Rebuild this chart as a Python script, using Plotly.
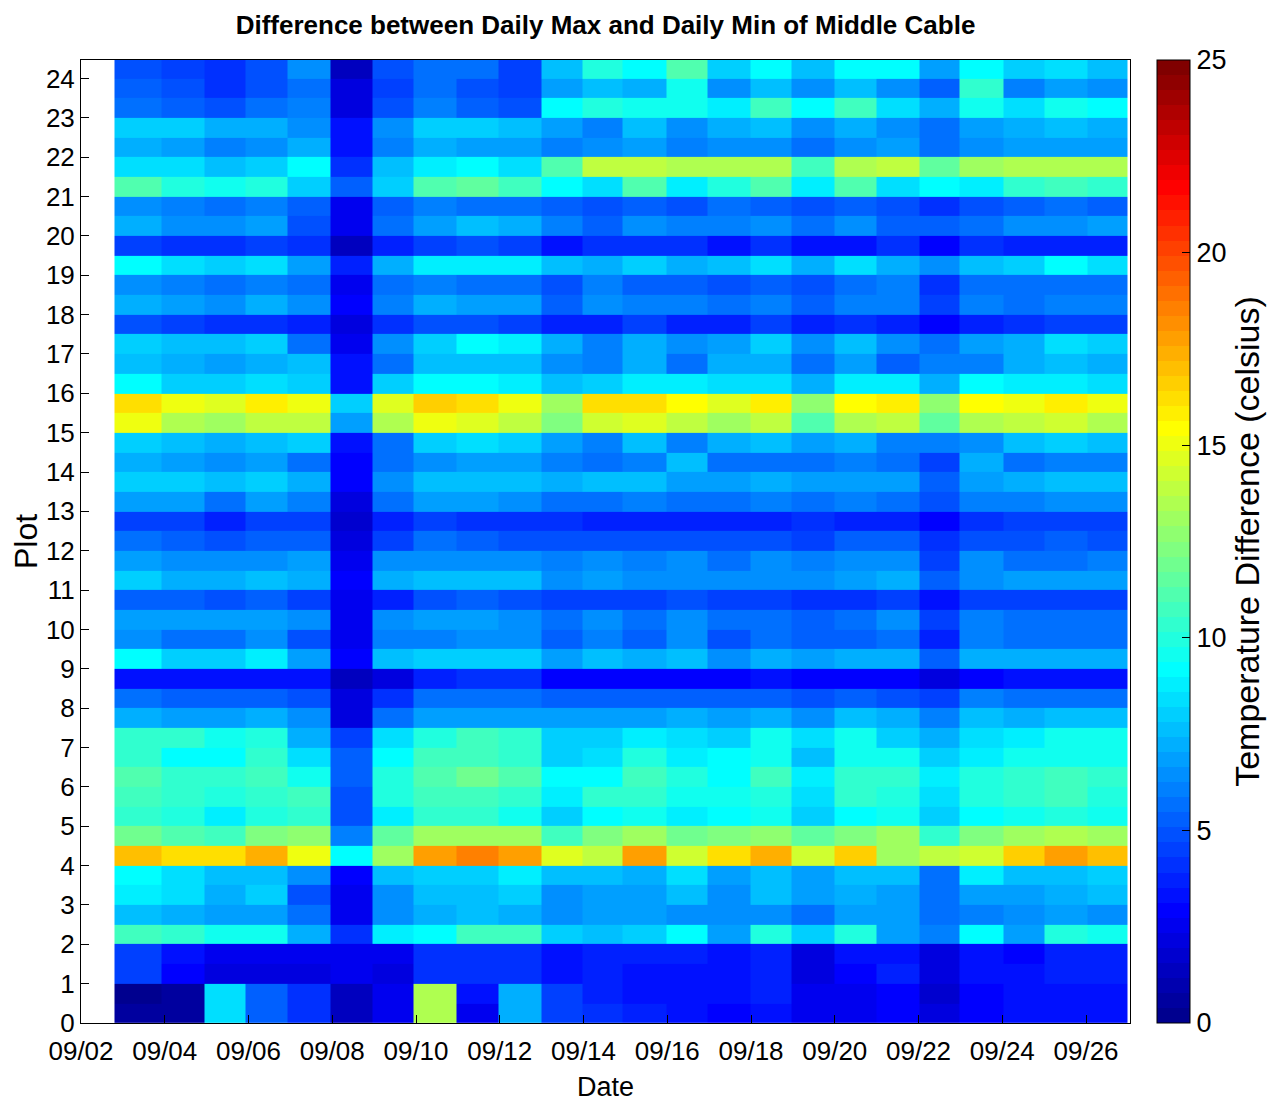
import math
import plotly.graph_objects as go

# ---------------- data ----------------
# column (day) bin edges, in day-of-September
date_edges = [2.80, 3.92, 4.95, 5.92, 6.94, 7.95, 8.97, 9.94, 10.97, 11.97, 13.00,
              13.97, 14.94, 15.97, 16.97, 17.99, 18.97, 19.99, 20.99, 22.02, 22.99,
              24.03, 25.00, 26.03, 27.00]
# plot (row) bin edges
plot_edges = [0, 0.5, 1, 1.5, 2, 2.5, 3, 3.5, 4, 4.5, 5, 5.5, 6, 6.5, 7, 7.5, 8, 8.5,
              9, 9.5, 10, 10.5, 11, 11.5, 12, 12.5, 13, 13.5, 14, 14.5, 15, 15.5, 16,
              16.5, 17, 17.5, 18, 18.5, 19, 19.5, 20, 20.5, 21, 21.5, 22, 22.5, 23,
              23.5, 24, 24.5]
date_tick_days = [2, 4, 6, 8, 10, 12, 14, 16, 18, 20, 22, 24, 26]
date_tick_labels = ["09/02", "09/04", "09/06", "09/08", "09/10", "09/12", "09/14",
                    "09/16", "09/18", "09/20", "09/22", "09/24", "09/26"]
plot_ticks = list(range(0, 25))
cbar_ticks = [0, 5, 10, 15, 20, 25]

# temperature difference, rows listed from top (24.25) to bottom (0.25)
diff_top_to_bottom = [
    [5.0, 4.6, 4.1, 5.0, 6.5, 1.5, 5.0, 5.7, 5.7, 4.5, 7.6, 10.0, 9.2, 11.1, 8.0, 9.2, 7.6, 9.2, 9.2, 6.7, 9.2, 8.0, 8.4, 7.6],
    [5.3, 5.0, 4.1, 5.0, 5.7, 2.3, 4.5, 5.7, 5.0, 4.5, 6.9, 7.6, 7.3, 9.6, 6.5, 7.6, 6.5, 7.5, 6.3, 5.3, 10.4, 5.9, 6.7, 6.3],
    [5.5, 5.1, 4.7, 5.5, 5.9, 2.3, 5.0, 5.9, 5.3, 5.0, 9.0, 9.8, 9.6, 9.6, 8.8, 10.8, 9.0, 10.8, 8.4, 7.1, 9.6, 8.4, 9.6, 9.2],
    [8.2, 8.0, 7.3, 7.3, 6.5, 3.5, 6.5, 8.0, 8.0, 7.6, 6.7, 6.1, 7.6, 6.3, 7.3, 7.6, 6.3, 7.1, 6.3, 5.5, 6.7, 7.3, 7.6, 7.3],
    [7.1, 6.9, 6.1, 6.5, 7.3, 3.3, 5.9, 7.3, 6.9, 6.9, 6.1, 6.5, 6.9, 6.1, 6.5, 6.5, 5.7, 6.3, 6.7, 5.5, 6.3, 6.9, 6.9, 6.9],
    [8.3, 8.3, 7.6, 8.0, 9.0, 4.1, 7.6, 8.8, 9.2, 8.4, 11.1, 13.9, 13.9, 13.5, 13.3, 13.5, 10.8, 13.3, 13.7, 11.5, 13.1, 13.5, 13.5, 13.3],
    [11.1, 10.0, 9.6, 10.0, 8.0, 5.3, 8.0, 11.1, 11.5, 10.8, 9.2, 8.4, 11.1, 8.8, 10.0, 11.1, 8.8, 11.1, 8.4, 9.2, 8.8, 10.4, 10.8, 10.4],
    [6.3, 6.1, 5.7, 6.1, 5.3, 2.5, 5.3, 6.1, 5.7, 5.7, 5.3, 5.0, 5.3, 5.0, 5.5, 5.3, 5.0, 5.3, 5.0, 4.1, 5.0, 5.1, 5.5, 5.1],
    [7.1, 6.5, 6.5, 6.9, 4.7, 2.6, 5.7, 6.9, 7.6, 7.3, 6.1, 5.3, 6.3, 5.9, 5.9, 6.3, 5.5, 6.3, 5.3, 5.3, 5.5, 6.3, 6.5, 6.7],
    [4.5, 4.1, 4.1, 4.3, 4.1, 1.5, 3.7, 4.3, 5.0, 4.5, 3.5, 4.1, 4.1, 4.1, 3.5, 4.1, 3.3, 3.5, 4.1, 2.9, 4.1, 3.9, 3.9, 3.7],
    [9.2, 8.4, 8.0, 8.4, 6.9, 3.7, 7.3, 8.8, 8.6, 8.6, 7.6, 7.3, 8.0, 7.3, 7.6, 8.4, 7.1, 8.4, 7.1, 6.3, 7.6, 8.2, 9.0, 8.4],
    [6.3, 6.1, 5.7, 6.1, 5.7, 2.7, 5.5, 6.1, 5.7, 5.7, 5.0, 5.9, 5.3, 5.3, 5.0, 5.3, 4.7, 5.5, 6.1, 4.1, 5.5, 5.5, 5.5, 5.5],
    [7.3, 6.9, 6.5, 7.3, 6.5, 2.9, 5.9, 7.3, 6.9, 6.7, 5.3, 6.3, 5.9, 5.9, 5.5, 5.9, 5.1, 5.9, 5.9, 4.5, 5.9, 5.5, 6.1, 5.9],
    [5.0, 4.5, 4.1, 4.1, 3.7, 2.0, 4.1, 4.7, 5.0, 4.5, 3.9, 3.9, 4.3, 3.9, 3.9, 4.3, 3.7, 4.1, 3.7, 2.9, 3.7, 4.1, 4.3, 4.3],
    [8.2, 7.6, 7.6, 8.2, 5.5, 2.5, 6.5, 8.0, 9.2, 8.6, 7.1, 6.1, 7.3, 6.5, 6.7, 8.0, 6.5, 7.8, 6.3, 5.5, 6.7, 7.3, 8.4, 8.0],
    [7.6, 7.3, 6.7, 7.3, 7.6, 3.3, 5.7, 7.6, 7.8, 7.6, 6.5, 6.1, 7.3, 5.5, 7.3, 7.3, 5.5, 6.9, 5.3, 5.9, 5.9, 7.3, 7.5, 7.3],
    [9.0, 8.2, 8.2, 8.4, 8.2, 3.3, 8.0, 9.2, 9.2, 8.8, 7.8, 8.2, 8.6, 8.6, 8.4, 8.4, 7.3, 8.6, 8.6, 7.3, 9.2, 8.6, 8.8, 8.4],
    [16.3, 14.9, 14.5, 16.0, 15.0, 8.0, 14.7, 16.5, 16.2, 15.0, 13.1, 16.3, 16.3, 15.4, 14.7, 15.8, 12.7, 15.4, 16.0, 12.7, 15.4, 15.0, 16.0, 15.0],
    [15.0, 13.5, 13.1, 13.9, 13.9, 6.9, 13.5, 15.0, 14.5, 13.9, 12.3, 14.3, 14.7, 13.9, 13.1, 13.9, 11.1, 13.5, 13.9, 11.5, 13.5, 13.9, 14.3, 13.5],
    [8.2, 7.6, 7.3, 7.6, 8.2, 3.3, 5.7, 8.0, 8.4, 8.0, 6.9, 6.1, 7.6, 5.9, 7.3, 7.6, 6.7, 7.3, 5.9, 5.9, 6.5, 7.6, 8.0, 7.6],
    [7.1, 6.9, 6.3, 6.9, 5.5, 3.1, 5.7, 6.5, 6.9, 6.9, 6.1, 5.7, 6.1, 7.5, 5.7, 5.7, 5.5, 6.1, 5.7, 4.5, 7.3, 5.7, 6.1, 6.1],
    [8.0, 8.0, 7.6, 8.0, 7.3, 3.1, 6.5, 7.6, 7.6, 7.6, 7.1, 7.5, 7.5, 6.9, 6.9, 7.3, 6.9, 6.9, 6.9, 5.3, 6.9, 7.3, 7.6, 7.6],
    [6.9, 6.7, 5.7, 6.7, 5.9, 2.3, 5.7, 6.9, 6.7, 6.5, 5.7, 5.7, 6.1, 5.7, 5.7, 6.1, 5.7, 6.1, 5.7, 5.0, 6.1, 6.1, 6.3, 6.3],
    [4.5, 4.3, 3.9, 4.3, 4.5, 1.8, 3.7, 4.5, 4.1, 4.1, 4.1, 3.9, 3.9, 3.9, 3.9, 3.9, 4.1, 3.9, 3.9, 2.9, 4.1, 4.3, 4.3, 4.3],
    [5.7, 5.3, 5.0, 5.3, 5.3, 2.1, 4.5, 5.5, 5.3, 5.0, 5.0, 4.7, 4.7, 4.7, 4.7, 4.7, 4.5, 5.1, 5.1, 4.1, 5.0, 5.0, 5.1, 4.7],
    [6.9, 6.5, 6.5, 6.5, 6.9, 2.5, 6.5, 6.5, 6.5, 6.5, 6.1, 6.5, 6.1, 6.5, 5.7, 6.3, 5.9, 6.3, 6.3, 4.5, 6.5, 5.7, 5.7, 6.1],
    [8.0, 7.3, 7.3, 7.6, 7.3, 2.9, 7.3, 7.6, 7.6, 7.6, 6.5, 6.9, 6.5, 6.5, 6.5, 6.5, 6.3, 6.9, 7.3, 5.3, 6.5, 6.9, 6.9, 6.9],
    [5.3, 5.1, 4.7, 5.1, 4.5, 2.5, 3.7, 5.0, 5.3, 5.0, 4.5, 4.5, 4.5, 5.0, 4.5, 4.5, 4.1, 4.1, 4.5, 3.3, 4.5, 4.5, 4.5, 4.5],
    [6.9, 6.9, 6.9, 6.9, 6.5, 2.7, 6.5, 6.9, 6.9, 6.5, 5.7, 6.5, 5.7, 6.5, 5.5, 5.7, 5.3, 5.7, 6.5, 4.5, 5.9, 5.5, 5.5, 5.5],
    [6.3, 5.7, 5.7, 6.5, 5.0, 2.7, 6.1, 6.1, 6.3, 6.3, 5.3, 6.1, 5.3, 6.3, 5.0, 5.5, 5.3, 5.3, 5.7, 3.7, 5.9, 5.5, 5.5, 5.5],
    [9.2, 8.0, 8.0, 8.8, 6.7, 2.9, 7.6, 8.0, 8.0, 8.0, 6.7, 7.5, 7.1, 7.5, 6.5, 7.3, 6.7, 7.3, 7.3, 5.3, 7.3, 7.3, 7.3, 7.3],
    [3.5, 3.3, 3.3, 3.5, 3.3, 1.3, 2.3, 3.7, 4.1, 4.1, 3.1, 3.1, 2.9, 3.1, 3.1, 3.3, 3.1, 3.1, 3.1, 2.2, 3.1, 3.5, 3.5, 3.5],
    [5.7, 5.3, 5.3, 5.3, 5.0, 2.2, 4.1, 5.5, 5.7, 5.5, 5.1, 5.1, 5.1, 5.3, 5.1, 5.1, 5.0, 5.3, 4.7, 4.3, 5.9, 5.5, 5.5, 5.5],
    [7.1, 6.7, 6.7, 7.1, 6.5, 2.2, 5.7, 6.9, 6.9, 6.9, 6.9, 6.9, 6.9, 7.1, 6.9, 7.3, 6.3, 7.6, 7.1, 5.9, 7.6, 7.3, 7.6, 7.6],
    [10.4, 10.4, 9.6, 10.0, 7.3, 4.3, 8.4, 10.0, 10.8, 10.4, 8.2, 8.0, 8.8, 8.4, 8.0, 9.6, 8.4, 9.6, 8.0, 7.3, 8.4, 8.8, 9.6, 9.6],
    [10.2, 9.2, 9.2, 10.2, 8.4, 5.1, 9.2, 10.8, 10.8, 10.4, 8.2, 8.4, 10.0, 8.8, 9.2, 9.6, 7.8, 9.6, 9.6, 8.0, 8.8, 9.6, 9.6, 9.6],
    [11.1, 10.2, 10.2, 10.8, 9.6, 5.3, 9.8, 11.1, 11.9, 11.1, 9.2, 9.2, 10.8, 10.0, 9.2, 10.8, 8.8, 10.4, 10.4, 8.8, 10.0, 10.4, 10.8, 10.4],
    [10.8, 10.2, 9.8, 10.4, 10.8, 5.0, 10.0, 10.8, 10.8, 10.4, 8.6, 10.2, 10.4, 9.6, 9.6, 10.0, 8.4, 10.2, 10.0, 8.4, 10.0, 10.4, 10.6, 10.0],
    [10.4, 9.8, 8.8, 9.8, 10.2, 5.0, 8.8, 10.4, 10.4, 9.6, 8.2, 9.2, 9.6, 8.8, 9.2, 9.6, 8.0, 9.2, 9.6, 8.0, 9.2, 9.6, 10.0, 9.6],
    [11.9, 11.3, 10.8, 12.3, 12.7, 6.1, 11.5, 13.1, 13.1, 13.1, 10.8, 12.3, 13.1, 11.9, 12.3, 12.7, 11.5, 12.3, 13.1, 10.4, 12.3, 13.1, 13.5, 13.1],
    [16.9, 16.2, 16.2, 17.3, 15.0, 9.2, 13.1, 17.7, 18.5, 17.7, 14.7, 13.9, 17.7, 14.3, 16.2, 17.3, 14.3, 16.7, 13.1, 13.9, 14.3, 16.7, 17.7, 16.9],
    [9.2, 8.4, 7.6, 7.6, 6.5, 2.9, 7.6, 8.0, 8.2, 8.8, 7.6, 7.6, 7.3, 8.4, 6.9, 7.5, 6.9, 7.8, 7.5, 5.5, 8.8, 7.6, 7.6, 8.0],
    [8.6, 8.4, 7.3, 8.0, 5.0, 2.7, 6.5, 7.8, 7.8, 8.2, 6.5, 6.9, 6.9, 7.5, 6.5, 7.5, 6.7, 7.1, 6.9, 5.5, 6.9, 6.9, 7.3, 7.8],
    [7.6, 7.3, 6.9, 6.9, 5.7, 2.5, 6.5, 7.3, 7.8, 7.3, 6.3, 6.9, 6.9, 6.5, 6.5, 6.5, 5.5, 6.9, 6.9, 5.5, 5.9, 6.5, 6.9, 6.5],
    [10.8, 10.4, 9.6, 9.6, 7.3, 4.1, 8.6, 9.2, 10.8, 10.8, 8.2, 7.6, 8.0, 9.0, 6.9, 10.0, 8.0, 9.8, 6.7, 5.9, 9.2, 6.9, 10.0, 9.6],
    [4.5, 3.3, 2.5, 2.5, 2.5, 2.7, 2.5, 4.1, 4.1, 4.1, 3.3, 3.7, 3.7, 3.7, 3.5, 3.7, 2.2, 3.3, 3.3, 2.2, 3.5, 2.9, 3.7, 3.7],
    [4.5, 2.9, 2.2, 2.2, 2.2, 2.5, 2.2, 4.1, 4.1, 4.1, 3.3, 3.9, 3.5, 3.5, 3.3, 3.7, 2.2, 2.9, 3.7, 2.2, 3.5, 3.5, 3.7, 3.7],
    [0.3, 0.6, 8.4, 5.1, 4.1, 1.4, 2.5, 13.5, 3.5, 7.3, 4.5, 3.9, 3.5, 3.3, 3.3, 3.7, 2.5, 2.5, 2.9, 1.8, 2.9, 3.3, 3.5, 3.5],
    [0.6, 0.6, 8.4, 5.1, 4.1, 1.5, 2.5, 13.5, 2.5, 7.3, 4.5, 4.1, 3.7, 3.3, 2.9, 3.5, 2.5, 2.5, 2.9, 2.2, 2.9, 3.3, 3.5, 3.5],
]


# ---------------- MATLAB jet(64) colormap ----------------
def jet(m=64):
    n = math.ceil(m / 4)
    u = [i / n for i in range(1, n + 1)] + [1.0] * (n - 1) + [i / n for i in range(n, 0, -1)]
    g0 = math.ceil(n / 2) - (1 if m % 4 == 1 else 0)
    J = [[0.0, 0.0, 0.0] for _ in range(m)]
    for k, val in enumerate(u, start=1):
        g = g0 + k
        r = g + n
        b = g - n
        if 1 <= r <= m:
            J[r - 1][0] = val
        if 1 <= g <= m:
            J[g - 1][1] = val
        if 1 <= b <= m:
            J[b - 1][2] = val
    return J


cmap = jet(64)
colorscale = []
for i, c in enumerate(cmap):
    col = "rgb(%d,%d,%d)" % tuple(round(255 * v) for v in c)
    colorscale.append([i / 64, col])
    colorscale.append([(i + 1) / 64, col])

z = diff_top_to_bottom[::-1]  # bottom row first, matching ascending plot_edges

FONT = "Liberation Sans, Arial, Helvetica, sans-serif"

# the page body adds an 8 px margin, so the figure is 8 px smaller than the window
FIG_W, FIG_H = 1269, 1097

fig = go.Figure(
    go.Heatmap(
        x=date_edges,
        y=plot_edges,
        z=z,
        zmin=0,
        zmax=25,
        colorscale=colorscale,
        zsmooth=False,
        colorbar=dict(
            x=1.0257,
            xanchor="left",
            xpad=0,
            y=0,
            yanchor="bottom",
            len=1,
            lenmode="fraction",
            ypad=0,
            thickness=33,
            outlinecolor="black",
            outlinewidth=1,
            tickvals=cbar_ticks,
            ticks="inside",
            ticklen=8,
            tickcolor="black",
            tickfont=dict(family=FONT, size=27, color="black"),
            title=dict(
                text="Temperature Difference (celsius)",
                side="right",
                font=dict(family=FONT, size=34, color="black"),
            ),
        ),
    )
)

fig.update_layout(
    width=FIG_W,
    height=FIG_H,
    margin=dict(l=73, r=147, t=52, b=82, autoexpand=False),
    paper_bgcolor="white",
    plot_bgcolor="white",
    title=dict(
        text="Difference between Daily Max and Daily Min of Middle Cable",
        x=0.5,
        xref="paper",
        xanchor="center",
        y=1 - 17 / FIG_H,
        yref="container",
        yanchor="middle",
        font=dict(family=FONT, size=26, color="black", weight="bold"),
    ),
    xaxis=dict(
        range=[2, 27.05],
        tickvals=date_tick_days,
        ticktext=date_tick_labels,
        ticks="inside",
        ticklen=8,
        tickcolor="black",
        ticklabelstandoff=5,
        showline=True,
        linecolor="black",
        linewidth=1,
        mirror=True,
        showgrid=False,
        zeroline=False,
        automargin=False,
        tickfont=dict(family=FONT, size=26, color="black"),
        title=dict(text="Date", font=dict(family=FONT, size=27, color="black"), standoff=11),
    ),
    yaxis=dict(
        range=[0, 24.47],
        tickvals=plot_ticks,
        ticks="inside",
        ticklen=8,
        tickcolor="black",
        showline=True,
        linecolor="black",
        linewidth=1,
        mirror=True,
        showgrid=False,
        zeroline=False,
        automargin=False,
        tickfont=dict(family=FONT, size=26, color="black"),
        title=dict(text="Plot", font=dict(family=FONT, size=32, color="black"), standoff=2),
    ),
)

fig.write_html("out.html")
